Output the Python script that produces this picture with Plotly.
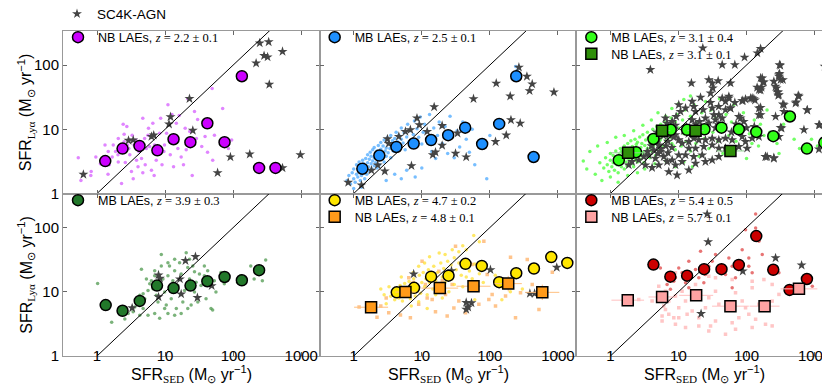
import plotly.graph_objects as go
from plotly.subplots import make_subplots

# ---------------- data ----------------
# z = 2.2 (NB)
nb22_x = [1.32, 2.37, 4.2, 7.7, 13.3, 23.5, 41.7, 74.6, 134, 240, 418]
nb22_y = [3.2, 5.0, 5.5, 4.7, 7.0, 6.3, 12.4, 6.3, 67, 2.5, 2.5]
dots22 = [(0.53,3.6),(0.58,1.6),(0.82,2.2),(0.81,1.9),(1.12,2.9),(1.31,5.7),(1.45,2.0),(1.51,2.8),(1.67,3.7),(1.87,4.5),
          (2.03,4.0),(2.05,3.1),(2.29,1.43),(2.42,12),(2.5,8.4),(2.74,11),(2.93,5.0),(3.03,4.0),(3.2,2.2),(3.28,8.1),
          (3.5,5.7),(3.8,3.3),(4.1,4.5),(4.5,3.5),(4.7,14.9),(5.0,7.2),(5.1,2.8),(5.6,8.1),(5.9,5.4),(6.3,2.3),
          (6.6,12.4),(7.0,5.7),(7.4,3.3),(8.3,8.7),(8.6,14.9),(9.0,2.8),(9.6,4.5),(9.8,5.7),(10.5,8.7),(11,24),
          (11.9,4.0),(12.6,17),(13.3,2.6),(14.6,12.4),(15.4,5.0),(16.1,16.4),(17.2,3.7),(18.6,2.8),(19.7,10.4),(20.4,4.8),
          (21.5,29.8),(23,9.2),(25,1.9),(27,18.9),(28.8,7.2),(30,14.2),(34.5,5.4),(38.6,7.7),(42,4.4),(45,12.4),
          (49,43),(50,3.3),(53,8.1),(70,21),(85,5.0),(95,6.8),(2.5,6.4),(2.8,5.7),(1.73,5.7),(3.7,6.8),
          (4.2,5.8),(5.3,5.0),(5.7,10.4),(6.9,1.9),(8.3,4.5),(4.0,2.6),(4.7,2.1),(3.4,1.7),(2.6,3.05),(2.05,7.2),
          (1.46,4.5),(0.96,3.7)]
agn22 = [(0.63,1.98),(22.8,30),(12,15.6),(11.4,12),(25.5,9.6),(6.3,7.7),(6.8,8.1),(2.9,6.7),(3.4,6.8),(91,3.7),
         (59,2.1),(175,4.1),(970,4.0),(530,2.5),(245,220),(332,229),(284,140),(320,133),(530,162),(217,107),(339,50)]

# z = 2.5 (MB)
mb25_x = [1.34, 2.38, 4.24, 7.6, 13.7, 24.4, 43.4, 77, 137, 244, 439]
mb25_y = [2.43, 3.9, 5.3, 6.0, 6.8, 8.1, 10.6, 5.9, 12.1, 67, 3.7]
dots25 = [(0.8,1.6),(0.85,1.9),(0.9,1.4),(0.95,2.1),(1.0,1.7),(1.0,2.4),(1.05,1.5),(1.1,2.0),(1.1,2.8),(1.15,1.8),
          (1.2,2.2),(1.2,3.1),(1.25,1.6),(1.3,2.6),(1.3,1.9),(1.35,3.3),(1.4,2.1),(1.4,2.9),(1.45,1.7),(1.5,3.5),
          (1.5,2.4),(1.55,2.0),(1.6,3.0),(1.6,4.0),(1.65,2.6),(1.7,3.4),(1.7,2.2),(1.75,4.4),(1.8,2.9),(1.8,3.8),
          (1.85,2.4),(1.9,3.2),(1.9,4.8),(2.0,2.7),(2.0,3.6),(2.0,5.2),(2.1,4.1),(2.1,3.0),(2.2,2.5),(2.2,4.6),
          (2.3,3.4),(2.3,5.6),(2.4,3.9),(2.4,2.8),(2.5,4.9),(2.5,6.2),(2.6,3.5),(2.6,4.3),(2.7,5.5),(2.8,3.1),
          (2.8,6.8),(2.9,4.6),(3.0,5.1),(3.0,3.8),(3.1,7.3),(3.2,4.3),(3.3,6.0),(3.4,5.0),(3.5,3.6),(3.5,8.0),
          (3.6,5.5),(3.7,6.6),(3.8,4.6),(4.0,7.2),(4.0,5.8),(4.2,9.0),(4.3,4.9),(4.4,6.4),(4.6,8.1),(4.8,5.4),
          (5.0,7.0),(5.0,10.5),(5.3,6.1),(5.5,8.8),(5.7,4.8),(6.0,7.6),(6.2,12),(6.5,6.4),(6.8,9.5),(7.0,5.2),
          (7.5,8.3),(7.8,13.5),(8.0,6.8),(8.5,10.2),(9.0,7.5),(9.5,15.5),(10,5.9),(10.5,9.0),(11,12),(12,7.0),
          (13,17),(14,4.5),(15,10.5),(16,3.5),(17,8.0),(18,13),(20,6.0),(22,11),(24,4.2),(26,16),
          (28,7.5),(30,3.6),(33,9.5),(36,5.3),(40,13),(45,7.0),(50,4.4),(55,10),(60,2.8),(70,6.2),
          (90,1.7),(100,8.0),(250,82),(240,95),(260,72),(1.0,1.2),(1.3,1.25),(3.0,1.6),(4,2.0),(5,1.7),
          (6,2.3),(8,1.8),(10,2.5)]
agn25 = [(0.83,1.49),(1.3,1.35),(2.86,2.23),(2.25,2.77),(1.82,2.3),(3.13,7.06),(3.27,6.0),(4.6,7.7),(5.75,9.2),(6.8,9.8),
         (8.5,14.9),(9.2,11.7),(12,9.2),(15.2,22.3),(7.05,2.7),(14.5,4.0),(15.9,4.4),(19.9,11.4),(19.9,5.6),(31.3,4.2),
         (44.9,3.7),(33.5,8.7),(57.5,29.8),(121,6.4),(174,8.1),(204,14),(279,12.4),(124,52),(199,32.8),(267,92),
         (350,66.5),(419,50.5),(383,39.7),(873,37.8)]

# z = 3.1 (MB + NB)
mb31_x = [1.33, 2.38, 4.29, 7.7, 13.4, 24.1, 42.9, 77, 139, 247, 434, 771, 1387]
mb31_y = [3.3, 4.4, 7.06, 9.8, 9.8, 10, 10.6, 10, 9.1, 7.8, 15.8, 5.0, 6.2]
nb31_x = [1.82, 5.75, 17.8, 58]
nb31_y = [4.3, 9.5, 9.5, 4.6]
nb31_xerr_dex = [0.25, 0.12, 0.12, 0.2]
dots31 = [(0.7,3.0),(0.8,2.5),(0.85,3.6),(0.9,2.8),(0.95,2.2),(1.0,3.3),(1.0,4.2),(1.05,2.6),(1.1,3.0),(1.1,3.9),
          (1.15,2.3),(1.2,3.5),(1.2,4.6),(1.25,2.8),(1.3,3.2),(1.3,2.1),(1.35,4.0),(1.4,3.6),(1.4,5.0),(1.45,2.6),
          (1.5,3.0),(1.5,4.3),(1.55,3.4),(1.6,2.4),(1.6,5.5),(1.65,3.8),(1.7,4.6),(1.7,3.1),(1.75,2.7),(1.8,4.1),
          (1.8,6.0),(1.85,3.5),(1.9,5.0),(1.9,2.9),(2.0,4.4),(2.0,3.2),(2.0,6.6),(2.1,3.8),(2.1,5.4),(2.2,2.6),
          (2.2,4.8),(2.3,3.5),(2.3,7.0),(2.4,4.2),(2.4,5.8),(2.5,3.1),(2.5,6.3),(2.6,4.6),(2.6,3.8),(2.7,7.6),
          (2.8,5.2),(2.8,3.4),(2.9,6.0),(3.0,4.4),(3.0,8.2),(3.1,3.0),(3.2,5.6),(3.3,6.8),(3.4,4.0),(3.5,9.0),
          (3.5,5.0),(3.6,7.3),(3.8,3.6),(3.8,6.1),(4.0,8.0),(4.0,4.6),(4.2,10),(4.3,5.5),(4.5,7.0),(4.6,3.9),
          (4.8,11),(5.0,6.2),(5.0,8.6),(5.3,4.8),(5.5,12),(5.6,7.4),(6.0,5.5),(6.0,9.5),(6.3,13),(6.5,6.6),
          (7.0,8.0),(7.0,4.3),(7.5,11),(7.8,15),(8.0,6.0),(8.5,9.2),(9.0,13),(9.0,4.8),(9.5,17),(10,7.0),
          (10,10.5),(11,5.5),(11.5,14),(12,8.5),(12.5,20),(13,6.5),(14,11),(15,4.6),(15,16),(16,9.0),
          (17,24),(18,6.0),(19,13),(20,3.8),(21,10),(22,18),(24,7.2),(25,27),(27,12),(28,5.0),
          (30,20),(32,9.0),(35,15),(38,6.5),(40,30),(42,11),(45,4.2),(50,17),(55,8.0),(60,13),
          (65,24),(70,6.5),(80,10),(90,18),(100,3.5),(110,8.5),(130,14),(150,5.5),(200,20),(250,9),
          (300,4.2),(0.6,2.0),(0.75,1.6),(1.0,1.8),(1.3,1.5),(1.8,1.9),(2.5,2.1),(3.2,2.4),(4.5,2.9),(6.5,3.2),
          (9,2.6),(12,3.1),(16,2.6),(0.5,4.5),(0.65,5.5),(0.9,6.2),(1.2,7.5),(1.6,8.0),(2.2,9.5),(3.0,11.5),
          (4.0,14),(5.0,18),(6.5,16),(8,21),(10,25),(12,29),(15,33),(0.4,3.2),(0.45,2.4),(1.25,3.7),
          (1.45,4.5),(1.7,3.6),(2.1,2.9),(2.4,3.3),(2.9,3.9),(3.4,4.6),(3.9,5.2),(4.4,6.0),(5.4,6.8),(7.5,7.5),
          (8.5,5.5),(120,6),(160,12),(180,8),(220,9),(280,6),(350,12),(420,18),(500,7),(600,5),
          (750,4.5),(900,7),(1100,5.5)]
agn31 = [(22.8,184),(43.9,101),(67.3,101),(93.5,132),(161,180),(144,154),(3.87,84.6),(313,98.8),(1626,226),(1403,95.3),
         (305,73.3),(161,62.7),(174,54.2),(299,66.5),(342,59),(15.5,52.3),(27.9,59),(31.3,52.3),(38.3,56.9),(32,43.7),
         (29.6,36.5),(58.2,52.3),(166,44.8),(152,41.2),(276,43.7),(292,37.9),(575,33.6),(537,26.4),(292,33.6),(21.1,31.3),
         (29.6,26.1),(43.9,30.5),(55,32.4),(67.3,26.1),(88.3,27.7),(121,30.5),(133,28.4),(161,21.8),(152,16.7),(342,24.6),
         (780,19.8),(1186,11.7),(327,10.4),(10.1,24),(10.7,18.9),(12.7,21.3),(15.9,27.1),(16.8,22.6),(17.8,18.9),(23.1,20.1),
         (31.3,21.3),(33.1,16.7),(39.2,16.7),(49.1,20.1),(58.2,21.3),(81.7,14.9),(43.9,14.9),(24.9,14.9),(20.4,13.2),(15.9,14),
         (9.25,15.8),(6.44,14.9),(6.81,12.4),(8.07,13.2),(6.08,9.2),(7.21,8.15),(9.04,8.15),(10.1,6.81),(11.3,6.04),(14.2,6.41),
         (16.8,7.23),(19.9,6.81),(24.9,6.81),(31.3,7.23),(39.2,6.81),(49.1,7.23),(61.5,6.81),(86.3,7.68),(96.6,6.41),(121,7.23),
         (152,7.68),(299,7.68),(14.2,5.05),(17.8,5.05),(23.6,5.36),(31.3,5.69),(39.2,5.05),(49.1,5.05),(61.5,4.75),(77.1,5.36),
         (102,5.05),(5.14,5.69),(4.34,4.75),(3.66,3.97),(3.09,3.74),(2.61,3.32),(2.08,3.13),(1.86,2.77),(3.27,2.77),(4.59,3.52),
         (5.43,4.48),(6.08,3.74),(6.81,3.13),(8.07,3.32),(10.1,3.97),(12.7,3.97),(16.8,3.74),(22.3,3.97),(24.9,3.13),(39.2,3.74),
         (31.3,3.32),(17.8,2.94),(11.3,3.13),(9.04,2.77),(5.14,2.77),(4.1,2.52),(9.55,1.93),(7.21,2.18),(14.2,2.32),(201,3.74),
         (252,3.52),(190,3.74),(3.5,4.5),(4.0,5.5),(4.5,6.2),(5.0,7.0),(5.5,5.0),(6.0,8.0),(6.5,5.5),(7.0,6.5),
         (7.5,10.5),(8.0,5.2),(8.5,7.5),(9.0,11.5),(5.0,4.2),(4.8,9.0),(7.0,4.3),(12,9.5),(13,11),(14,8.5),
         (18,12),(20,9.0),(25,10),(28,12.5),(35,10.5),(45,11.5),(60,9.0),(70,12),(100,10.5),(130,11),
         (305,101),(299,70.6),(316,59),(170,62.7),(180,54.2),(143,44.8),(161,40.6),(252,55.6),(267,46.5),(282,37.9),
         (299,34.4),(86,27.7),(96.6,29.4),(115,30.5),(128,29.8),(55,30.5),(49,27.1),(58,21.3),(39,22.6),(152,21.3),
         (161,16.7),(354,24),(588,32.4),(525,25.5),(778,20),(354,18.9),(267,15.8),(316,10.6),(697,9.8),(1156,11.7),
         (1156,4.9),(190,3.74),(252,3.6),(77,15.8),(91,13.2),(82,10.4),(35,14),(39,11.7)]

# z = 3.9 (MB)
mb39_x = [1.34, 2.37, 4.24, 7.6, 13.3, 23.6, 41.7, 74.7, 134, 240]
mb39_y = [6.2, 5.06, 7.2, 12.5, 11.4, 12.5, 14.6, 17, 15.1, 21.7]
dots39 = [(1.02,13.4),(1.64,3.36),(2.56,3.77),(2.87,4.6),(3.39,4.9),(3.59,5.8),(4.24,8.8),(4.49,22.5),(4.75,5.5),(5.02,7.8),
          (5.61,10.5),(5.94,13.3),(6.28,14.9),(6.64,11.1),(7.03,17.8),(7.43,8.8),(7.86,6.95),(8.31,14.1),(8.79,38.2),(9.29,15.8),
          (9.84,9.9),(10.4,6.2),(11,17.8),(11.6,25.3),(12.3,7.8),(13,14.9),(13.8,21.2),(14.6,5.5),(15.4,12.5),(16.3,28.4),
          (17.2,18.9),(18.2,6.95),(19.3,10.5),(20.4,40.5),(21.5,23.9),(22.8,15.8),(24.1,6.2),(25.5,25.3),(27,9.9),(28.5,14.1),
          (30.2,6.95),(31.9,18.9),(33.7,12.5),(37.7,17.8),(39.9,7.8),(42.2,21.2),(47.2,5.5),(49.9,5.2),(52.8,14.9),(66,20),
          (129,17.8),(181,25.3),(268,14.9),(300,31.3),(203,15.8),(5.61,4.3),(7.03,4.6),(8.31,3.86),(9.84,5.5),(11,4.6),
          (13.8,4.3),(17.2,4.6),(21.5,5.5),(4.24,4.3),(3.79,6.5),(4.75,9.3),(5.31,15.8),(7.03,21.2),(8.79,25.3),(11,28.4),
          (13.8,32),(22.8,32),(27,20.5),(37.7,25.3),(42.2,15.8),(55.8,9.9),(74,13.3),(116,14.1),(82.6,17.8)]
agn39 = [(3.28,5.6),(8.0,18.2),(8.4,16.2),(8.0,8.3),(16.5,15.8),(17.2,9.2),(19.9,30.5),(27.9,35.2),(29.8,8.1),(48.3,12.4)]

# z = 4.7 (MB) and 4.8 (NB)
mb47_x = [4.29, 7.7, 13.7, 24.7, 43.9, 76, 137, 244, 444, 798, 1372]
mb47_y = [9.8, 11.5, 17.2, 17.8, 27.2, 25.3, 14.1, 19.5, 23, 34.7, 28.1]
nb48_x = [1.8, 5.75, 18.4, 57.5, 186, 589]
nb48_y = [5.75, 9.9, 11.4, 12.2, 13.4, 9.8]
nb48_xerr_dex = [0.25, 0.15, 0.27, 0.25, 0.2, 0.25]
nb48_yerr_dex = [0.03, 0.05, 0.05, 0.04, 0.12, 0.12]
dots47 = [(3.5,8.5),(3.8,10),(4.0,7.5),(4.2,9.2),(4.5,11),(4.6,8.0),(4.8,12.5),(5.0,9.5),(5.2,7.2),(5.5,10.5),
          (5.6,13.5),(5.8,8.5),(6.0,11.5),(6.3,9.0),(6.5,14.5),(6.8,7.8),(7.0,12),(7.3,10),(7.6,16),(8.0,8.6),
          (8.3,13),(8.8,11),(9.2,18),(9.6,9.5),(10,14),(10.5,20),(11,12),(11.5,16),(12,9.0),(12.5,22),
          (13,14),(14,18),(14.5,11),(15,25),(16,15),(17,20),(18,12),(19,28),(20,17),(21,23),
          (22,14),(24,30),(25,19),(27,26),(28,16),(30,34),(32,22),(35,28),(38,18),(40,24),
          (45,30),(50,21),(55,16),(60,27),(70,19),(80,14),(100,22),(120,18),(150,12),(3.0,6.5),
          (2.8,9.0),(3.3,12),(7.0,6.0),(9.0,7.0),(16,9.0),(25,10),(40,12),(60,7.5),(13,35),(18,40),
          (28,45),(22,38),(35,42),(9,25),(11,28),(7.5,20),(2.5,11),(20,8),(30,13),(45,17),
          (5,17),(12,5.5),(150,7.5),(200,10),(300,11),(58,75),(70,60),(40,52),(45,45)]
dots48 = [(31.3,51),(81.6,61),(201,34.5),(354,31.7),(826,20.2),(419,13),(108,9.1),(526,5.3),(238,3.95),(23.6,4.2),
          (15.9,4.9),(6.8,3.95),(4.86,4.35),(3.27,4.72),(9.0,6.4),(14.2,7.6),(22.3,9.1),(29.6,5.6),(43.9,4.72),(68.9,6.4),
          (96.6,7.6),(121,6.0),(170,8.6),(282,9.65),(91.4,18.6),(55,26.5),(17.8,20.9),(11.3,13),(6.44,16.5),(8.07,10.2),
          (4.59,8.6),(27.9,13),(52,10.9),(35,7.2),(3.87,9.1),(10.1,29.9),(2.5,6),(3.0,8),(5.5,11),(7.5,14),
          (12,8),(20,15),(1.2,5.8),(2.2,4.0)]
agn47 = [(7.6,18.9),(27.3,21.2),(102,22),(44.9,6.8),(53.7,6.7),(44.9,5.3),(48,5.75),(387,9.4),(454,9.4),(960,23.9)]

# z = 5.4 (MB) and 5.7 (NB)
mb54_x = [4.29, 7.6, 13.4, 23.8, 42.9, 77, 139, 247, 429, 771]
mb54_y = [26.5, 17.2, 17.8, 22.5, 22.5, 26.2, 73.7, 22, 10.7, 15.8]
nb57_x = [1.8, 5.75, 18.2, 58, 184, 589]
nb57_y = [7.4, 8.3, 8.8, 5.97, 5.97, 11.1]
nb57_xerr_dex = [0.24, 0.2, 0.25, 0.27, 0.22, 0.27]
dots54 = [(136,162),(96.7,92.5),(21.1,42.7),(31.3,29.9),(55,33.6),(108,33.6),(86.3,45.3),(170,37.9),(14.2,29.9),(17.8,22.2),
          (11.3,19.7),(9.03,16.5),(6.81,13),(7.63,10.9),(8.54,14.6),(12.7,13.8),(14.2,11.5),(19.9,16.5),(24.9,18.6),(23.6,13.8),
          (39.2,20.9),(49.1,18.6),(61.5,25),(77.1,22.2),(108,25),(121,19.7),(61.5,11.5),(68.9,16.5),(299,19.7),(589,11.5),
          (826,14.6),(925,12.2),(35,37.9),(27.9,25),(10.1,23.5),(5.43,23.5),(136,98),(152,61)]
dots57 = [(27.9,17.5),(35,16.5),(61.5,15.5),(121,14.6),(180,15.5),(238,13),(11.3,10.2),(9.03,8.57),(7.21,7.16),(6.08,6.0),
          (7.21,4.45),(8.54,3.95),(5.75,4.2),(9.03,3.12),(12.7,2.77),(19.9,2.94),(27.9,2.45),(35,3.51),(61.5,3.3),(77.1,3.95),
          (108,4.45),(136,3.72),(190,3.12),(238,2.94),(121,2.77),(68.9,2.61),(49.1,2.18),(29.6,2.94),(19.9,3.95),(15.9,5.0),
          (24.9,5.65),(39.2,6.37),(61.5,6.0),(96.7,5.65),(152,6.37),(238,7.16),(299,9.1),(121,11.5),(68.9,9.65),(35,10.2),
          (19.9,10.2),(12.7,7.16),(10.1,5.65),(6.44,5.32),(5.14,9.1),(4.1,7.16),(2.61,7.6),(5.75,3.51),(10.1,3.95),(13.4,4.45),
          (86.3,7.16),(27.9,8.07),(17.8,13),(12.7,17.5),(9.03,19.7),(6.44,10.2),(5.14,12.2)]
agn54 = [(26.4,162),(27.3,59.6),(88,20.9),(267,33.6),(644,25.9),(21.5,4.56)]

identity = [0.1, 10000]
x_ticks = [1, 10, 100, 1000]
y_ticks = [1, 10, 100]

# ---------------- styling ----------------
SANS = "Liberation Sans"
SERIF = "Liberation Serif"
STAR_COL = "#444444"


def lab(kind, z):
    return f'{kind} LAEs, <span style="font-family:{SERIF}"><i>z</i> = {z}</span>'


def xs(pairs):
    return [p[0] for p in pairs]


def ys(pairs):
    return [p[1] for p in pairs]


def errs(vals, dex):
    plus = [v * (10 ** d - 1) for v, d in zip(vals, dex)]
    minus = [v * (1 - 10 ** (-d)) for v, d in zip(vals, dex)]
    return plus, minus


fig = make_subplots(rows=2, cols=3, horizontal_spacing=0, vertical_spacing=0)


def add_dots(pairs, color, r, c, symbol="circle", opacity=0.75, size=3.5):
    fig.add_trace(go.Scatter(x=xs(pairs), y=ys(pairs), mode="markers",
                             marker=dict(color=color, size=size, symbol=symbol, opacity=opacity, line=dict(width=0)),
                             showlegend=False, hoverinfo="skip"), row=r, col=c)


def add_agn(pairs, r, c, show=False):
    fig.add_trace(go.Scatter(x=xs(pairs), y=ys(pairs), mode="markers", name="SC4K-AGN",
                             marker=dict(color=STAR_COL, size=7.5, symbol="star", line=dict(width=0)),
                             showlegend=show, legend="legend"), row=r, col=c)


def add_line(r, c):
    fig.add_trace(go.Scatter(x=identity, y=identity, mode="lines", line=dict(color="black", width=1),
                             showlegend=False, hoverinfo="skip"), row=r, col=c)


def add_big(x, y, color, name, legend, r, c, symbol="circle", ex=None, ey=None, errcol=None):
    kw = {}
    if ex is not None:
        p, m = errs(x, ex)
        kw["error_x"] = dict(type="data", array=p, arrayminus=m, color=errcol, thickness=1, width=0)
    if ey is not None:
        p, m = errs(y, ey)
        kw["error_y"] = dict(type="data", array=p, arrayminus=m, color=errcol, thickness=1, width=0)
    fig.add_trace(go.Scatter(x=x, y=y, mode="markers", name=name, legend=legend,
                             marker=dict(color=color, size=11, symbol=symbol, line=dict(color="black", width=1.5)),
                             showlegend=True, **kw), row=r, col=c)


# panel 1: z=2.2
add_dots(dots22, "#d65cff", 1, 1)
add_agn(agn22, 1, 1, show=True)
add_line(1, 1)
add_big(nb22_x, nb22_y, "#cc00ff", lab("NB", "2.2 ± 0.1"), "legend2", 1, 1)

# panel 2: z=2.5
add_dots(dots25, "#4aa8ff", 1, 2)
add_agn(agn25, 1, 2)
add_line(1, 2)
add_big(mb25_x, mb25_y, "#1e90ff", lab("MB", "2.5 ± 0.1"), "legend3", 1, 2)

# panel 3: z=3.1
add_dots(dots31, "#44ff33", 1, 3)
add_agn(agn31, 1, 3)
add_line(1, 3)
add_big(mb31_x, mb31_y, "#33ff1a", lab("MB", "3.1 ± 0.4"), "legend4", 1, 3)
add_big(nb31_x, nb31_y, "#2f8f0a", lab("NB", "3.1 ± 0.1"), "legend8", 1, 3, symbol="square",
        ex=nb31_xerr_dex, errcol="#8fd08f")

# panel 4: z=3.9
add_dots(dots39, "#4f9a4f", 2, 1)
add_agn(agn39, 2, 1)
add_line(2, 1)
add_big(mb39_x, mb39_y, "#22782a", lab("MB", "3.9 ± 0.3"), "legend5", 2, 1)

# panel 5: z=4.7 / 4.8
add_dots(dots48, "#ffb066", 2, 2, symbol="square", size=3.5)
add_dots(dots47, "#ffe033", 2, 2)
add_agn(agn47, 2, 2)
add_line(2, 2)
add_big(mb47_x, mb47_y, "#ffe600", lab("MB", "4.7 ± 0.2"), "legend6", 2, 2)
add_big(nb48_x, nb48_y, "#ff9a1a", lab("NB", "4.8 ± 0.1"), "legend9", 2, 2, symbol="square",
        ex=nb48_xerr_dex, ey=nb48_yerr_dex, errcol="#ffc080")

# panel 6: z=5.4 / 5.7
add_dots(dots57, "#ffb3b3", 2, 3, symbol="square", size=3.5)
add_dots(dots54, "#e04545", 2, 3)
add_agn(agn54, 2, 3)
add_line(2, 3)
add_big(mb54_x, mb54_y, "#cc0000", lab("MB", "5.4 ± 0.5"), "legend7", 2, 3)
add_big(nb57_x, nb57_y, "#ffa3a3", lab("NB", "5.7 ± 0.1"), "legend10", 2, 3, symbol="square",
        ex=nb57_xerr_dex, errcol="#ffc0c0")

# ---------------- axes ----------------
axis_common = dict(type="log", showgrid=False, zeroline=False, showline=True, linecolor="#999999", linewidth=1,
                   mirror="ticks", ticks="inside", ticklen=4, tickcolor="#666666",
                   tickfont=dict(family=SANS, size=15, color="black"))

for r in (1, 2):
    for c in (1, 2, 3):
        fig.update_xaxes(range=[-0.5, 3.27], tickvals=x_ticks, ticktext=[str(v) for v in x_ticks],
                         showticklabels=(r == 2), ticklabelstandoff=(-14 if r == 2 else 0),
                         row=r, col=c, **axis_common)
        fig.update_yaxes(range=[0, 2.53], tickvals=y_ticks, ticktext=[str(v) for v in y_ticks],
                         showticklabels=(c == 1),
                         row=r, col=c, **axis_common)

# ---------------- titles & legends (pixel-based placement) ----------------
W = 770.0
H = 325.0
L, T = 55, 23


def px_x(p):
    return (p - L) / W


def px_y(p):
    return 1 - (p - T) / H


title_x = ('SFR<sub><span style="font-family:%s">SED</span></sub> (M<sub>⊙</sub> yr<sup>−1</sup>)' % SERIF)
title_y = ('SFR<sub><span style="font-family:%s">Lyα</span></sub> (M<sub>⊙</sub> yr<sup>−1</sup>)' % SERIF)

annotations = []
for c in range(3):
    annotations.append(dict(text=title_x, xref="paper", yref="paper", x=(2 * c + 1) / 6, y=px_y(366),
                            xanchor="center", yanchor="middle", showarrow=False,
                            font=dict(family=SANS, size=16, color="black")))
for r in range(2):
    annotations.append(dict(text=title_y, xref="paper", yref="paper", x=px_x(18), y=(1 - r) * 0.5 + 0.25,
                            xanchor="center", yanchor="middle", showarrow=False, textangle=-90,
                            font=dict(family=SANS, size=16, color="black")))

leg_font = dict(family=SANS, size=12.5, color="black")
common_leg = dict(bgcolor="rgba(0,0,0,0)", borderwidth=0, font=leg_font, xanchor="left", yanchor="middle",
                  itemsizing="trace")

layout_legends = {
    "legend": dict(x=px_x(49), y=px_y(6), xanchor="left", yanchor="middle", bgcolor="rgba(0,0,0,0)",
                   font=dict(family=SANS, size=13.5, color="black")),
}
panel_lefts = [55, 55 + W / 3, 55 + 2 * W / 3]
row1 = [29.5, 192.5]
row2 = [46, 209]
names = ["legend2", "legend3", "legend4", "legend5", "legend6", "legend7"]
for i, nm in enumerate(names):
    r, c = divmod(i, 3)
    layout_legends[nm] = dict(x=px_x(panel_lefts[c] - 5), y=px_y(row1[r]), **common_leg)
for nm, (r, c) in zip(["legend8", "legend9", "legend10"], [(0, 2), (1, 1), (1, 2)]):
    layout_legends[nm] = dict(x=px_x(panel_lefts[c] - 5), y=px_y(row2[r]), **common_leg)

fig.update_layout(
    width=830, height=390,
    margin=dict(l=L, r=5, t=T, b=42, autoexpand=False),
    paper_bgcolor="white", plot_bgcolor="white",
    font=dict(family=SANS, color="black"),
    annotations=annotations,
    **layout_legends,
)

fig.write_html("out.html")
